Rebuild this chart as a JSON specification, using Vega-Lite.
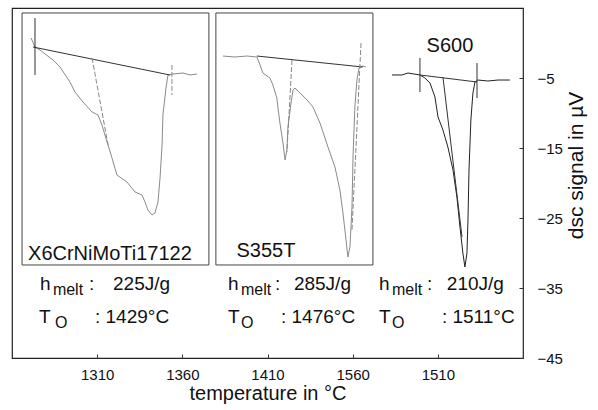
{
  "$schema": "https://vega.github.io/schema/vega-lite/v6.json",
  "width": 511,
  "height": 350,
  "autosize": {"type": "none"},
  "padding": {"left": 12, "top": 8, "right": 75, "bottom": 52},
  "background": "white",
  "config": {
    "font": "Liberation Sans",
    "view": {"stroke": "#222", "strokeWidth": 1.2}
  },
  "datasets": {
    "curves": [
      {"s": "p1", "i": 1, "T": 1271.2, "v": 0.71},
      {"s": "p1", "i": 2, "T": 1273.5, "v": -0.57},
      {"s": "p1", "i": 3, "T": 1276.4, "v": -1.0},
      {"s": "p1", "i": 4, "T": 1284.1, "v": -2.43},
      {"s": "p1", "i": 5, "T": 1288.2, "v": -3.43},
      {"s": "p1", "i": 6, "T": 1294.0, "v": -5.57},
      {"s": "p1", "i": 7, "T": 1297.0, "v": -7.0},
      {"s": "p1", "i": 8, "T": 1301.7, "v": -8.43},
      {"s": "p1", "i": 9, "T": 1307.0, "v": -9.86},
      {"s": "p1", "i": 10, "T": 1310.5, "v": -10.29},
      {"s": "p1", "i": 11, "T": 1312.8, "v": -11.71},
      {"s": "p1", "i": 12, "T": 1315.8, "v": -14.14},
      {"s": "p1", "i": 13, "T": 1318.7, "v": -16.43},
      {"s": "p1", "i": 14, "T": 1321.6, "v": -18.86},
      {"s": "p1", "i": 15, "T": 1327.5, "v": -19.86},
      {"s": "p1", "i": 16, "T": 1332.2, "v": -21.29},
      {"s": "p1", "i": 17, "T": 1336.3, "v": -21.71},
      {"s": "p1", "i": 18, "T": 1338.1, "v": -22.71},
      {"s": "p1", "i": 19, "T": 1339.8, "v": -23.86},
      {"s": "p1", "i": 20, "T": 1342.2, "v": -24.57},
      {"s": "p1", "i": 21, "T": 1343.9, "v": -24.29},
      {"s": "p1", "i": 22, "T": 1345.7, "v": -22.71},
      {"s": "p1", "i": 23, "T": 1346.9, "v": -19.29},
      {"s": "p1", "i": 24, "T": 1348.1, "v": -14.57},
      {"s": "p1", "i": 25, "T": 1348.6, "v": -10.29},
      {"s": "p1", "i": 26, "T": 1350.4, "v": -6.43},
      {"s": "p1", "i": 27, "T": 1351.6, "v": -4.57},
      {"s": "p1", "i": 28, "T": 1354.5, "v": -4.43},
      {"s": "p1", "i": 29, "T": 1360.4, "v": -4.29},
      {"s": "p1", "i": 30, "T": 1364.5, "v": -4.57},
      {"s": "p1", "i": 31, "T": 1368.6, "v": -4.43},
      {"s": "p2", "i": 1, "T": 1383.9, "v": -1.86},
      {"s": "p2", "i": 2, "T": 1390.9, "v": -2.0},
      {"s": "p2", "i": 3, "T": 1397.9, "v": -1.86},
      {"s": "p2", "i": 4, "T": 1403.8, "v": -2.0},
      {"s": "p2", "i": 5, "T": 1405.6, "v": -3.14},
      {"s": "p2", "i": 6, "T": 1407.3, "v": -4.29},
      {"s": "p2", "i": 7, "T": 1411.4, "v": -5.0},
      {"s": "p2", "i": 8, "T": 1413.2, "v": -6.0},
      {"s": "p2", "i": 9, "T": 1415.5, "v": -7.86},
      {"s": "p2", "i": 10, "T": 1416.1, "v": -9.14},
      {"s": "p2", "i": 11, "T": 1417.3, "v": -11.43},
      {"s": "p2", "i": 12, "T": 1419.1, "v": -14.29},
      {"s": "p2", "i": 13, "T": 1420.3, "v": -16.71},
      {"s": "p2", "i": 14, "T": 1421.4, "v": -15.29},
      {"s": "p2", "i": 15, "T": 1422.0, "v": -12.0},
      {"s": "p2", "i": 16, "T": 1423.8, "v": -8.57},
      {"s": "p2", "i": 17, "T": 1425.0, "v": -6.71},
      {"s": "p2", "i": 18, "T": 1426.1, "v": -6.43},
      {"s": "p2", "i": 19, "T": 1429.1, "v": -7.14},
      {"s": "p2", "i": 20, "T": 1433.2, "v": -8.14},
      {"s": "p2", "i": 21, "T": 1436.7, "v": -9.14},
      {"s": "p2", "i": 22, "T": 1440.8, "v": -11.43},
      {"s": "p2", "i": 23, "T": 1445.5, "v": -14.86},
      {"s": "p2", "i": 24, "T": 1449.6, "v": -17.71},
      {"s": "p2", "i": 25, "T": 1452.5, "v": -21.0},
      {"s": "p2", "i": 26, "T": 1454.3, "v": -24.29},
      {"s": "p2", "i": 27, "T": 1456.1, "v": -28.14},
      {"s": "p2", "i": 28, "T": 1457.2, "v": -30.57},
      {"s": "p2", "i": 29, "T": 1458.4, "v": -29.14},
      {"s": "p2", "i": 30, "T": 1459.6, "v": -23.43},
      {"s": "p2", "i": 31, "T": 1460.2, "v": -16.29},
      {"s": "p2", "i": 32, "T": 1461.3, "v": -9.14},
      {"s": "p2", "i": 33, "T": 1462.5, "v": -5.29},
      {"s": "p2", "i": 34, "T": 1463.7, "v": -3.57},
      {"s": "p2", "i": 35, "T": 1466.0, "v": -3.29},
      {"s": "p2", "i": 36, "T": 1467.8, "v": -3.43},
      {"s": "p3", "i": 1, "T": 1483.1, "v": -4.57},
      {"s": "p3", "i": 2, "T": 1488.9, "v": -4.57},
      {"s": "p3", "i": 3, "T": 1492.5, "v": -4.29},
      {"s": "p3", "i": 4, "T": 1499.5, "v": -4.57},
      {"s": "p3", "i": 5, "T": 1502.4, "v": -5.0},
      {"s": "p3", "i": 6, "T": 1505.4, "v": -5.71},
      {"s": "p3", "i": 7, "T": 1508.3, "v": -7.71},
      {"s": "p3", "i": 8, "T": 1510.1, "v": -10.57},
      {"s": "p3", "i": 9, "T": 1513.0, "v": -12.43},
      {"s": "p3", "i": 10, "T": 1515.9, "v": -14.86},
      {"s": "p3", "i": 11, "T": 1518.9, "v": -18.14},
      {"s": "p3", "i": 12, "T": 1521.2, "v": -22.0},
      {"s": "p3", "i": 13, "T": 1523.0, "v": -26.29},
      {"s": "p3", "i": 14, "T": 1524.7, "v": -30.0},
      {"s": "p3", "i": 15, "T": 1525.9, "v": -32.0},
      {"s": "p3", "i": 16, "T": 1527.1, "v": -30.0},
      {"s": "p3", "i": 17, "T": 1527.7, "v": -25.29},
      {"s": "p3", "i": 18, "T": 1528.3, "v": -18.14},
      {"s": "p3", "i": 19, "T": 1529.4, "v": -11.0},
      {"s": "p3", "i": 20, "T": 1530.6, "v": -7.14},
      {"s": "p3", "i": 21, "T": 1531.8, "v": -5.57},
      {"s": "p3", "i": 22, "T": 1533.5, "v": -5.29},
      {"s": "p3", "i": 23, "T": 1539.4, "v": -5.43},
      {"s": "p3", "i": 24, "T": 1545.3, "v": -5.29},
      {"s": "p3", "i": 25, "T": 1552.3, "v": -5.29}
    ],
    "constr": [
      {"s": "p1base", "k": "solid", "i": 1, "T": 1272.3, "v": -0.57},
      {"s": "p1base", "k": "solid", "i": 2, "T": 1352.7, "v": -4.57},
      {"s": "p1m1", "k": "solid", "i": 1, "T": 1273.5, "v": 3.57},
      {"s": "p1m1", "k": "solid", "i": 2, "T": 1273.5, "v": -4.57},
      {"s": "p1tan", "k": "faint", "i": 1, "T": 1307.0, "v": -2.14},
      {"s": "p1tan", "k": "faint", "i": 2, "T": 1316.4, "v": -14.57},
      {"s": "p1m2", "k": "faint", "i": 1, "T": 1353.9, "v": -3.14},
      {"s": "p1m2", "k": "faint", "i": 2, "T": 1353.9, "v": -7.43},
      {"s": "p2base", "k": "solid", "i": 1, "T": 1403.8, "v": -1.86},
      {"s": "p2base", "k": "solid", "i": 2, "T": 1466.0, "v": -3.43},
      {"s": "p2tan1", "k": "faint", "i": 1, "T": 1424.4, "v": -2.43},
      {"s": "p2tan1", "k": "faint", "i": 2, "T": 1421.4, "v": -15.57},
      {"s": "p2tan2", "k": "faint", "i": 1, "T": 1464.9, "v": 0.0},
      {"s": "p2tan2", "k": "faint", "i": 2, "T": 1459.6, "v": -26.71},
      {"s": "p3base", "k": "solid", "i": 1, "T": 1499.5, "v": -4.57},
      {"s": "p3base", "k": "solid", "i": 2, "T": 1533.0, "v": -5.57},
      {"s": "p3tan", "k": "solid", "i": 1, "T": 1513.0, "v": -4.86},
      {"s": "p3tan", "k": "solid", "i": 2, "T": 1524.2, "v": -27.71},
      {"s": "p3m1", "k": "solid", "i": 1, "T": 1499.5, "v": -2.14},
      {"s": "p3m1", "k": "solid", "i": 2, "T": 1499.5, "v": -7.0},
      {"s": "p3m2", "k": "solid", "i": 1, "T": 1533.0, "v": -2.86},
      {"s": "p3m2", "k": "solid", "i": 2, "T": 1533.0, "v": -7.86}
    ],
    "boxes": [
      {"T1": 1265.9, "T2": 1375.6, "v1": 4.29, "v2": -31.71},
      {"T1": 1379.7, "T2": 1471.9, "v1": 4.29, "v2": -31.71}
    ],
    "notes": [
      {"role": "label", "T": 1317.5, "v": -31.0, "text": "X6CrNiMoTi17122"},
      {"role": "label", "T": 1409.1, "v": -30.6, "text": "S355T"},
      {"role": "label", "T": 1517.1, "v": -1.3, "text": "S600"},
      {"role": "main", "T": 1276.4, "v": -35.29, "text": "h"},
      {"role": "sub", "T": 1284.0, "v": -35.29, "text": "melt"},
      {"role": "main", "T": 1305.2, "v": -35.29, "text": ":"},
      {"role": "main", "T": 1319.3, "v": -35.29, "text": "225J/g"},
      {"role": "main", "T": 1275.8, "v": -40.0, "text": "T"},
      {"role": "sub", "T": 1285.2, "v": -40.0, "text": "O"},
      {"role": "main", "T": 1308.7, "v": -40.0, "text": ": 1429°C"},
      {"role": "main", "T": 1386.8, "v": -35.29, "text": "h"},
      {"role": "sub", "T": 1394.4, "v": -35.29, "text": "melt"},
      {"role": "main", "T": 1414.4, "v": -35.29, "text": ":"},
      {"role": "main", "T": 1425.5, "v": -35.29, "text": "285J/g"},
      {"role": "main", "T": 1386.8, "v": -40.0, "text": "T"},
      {"role": "sub", "T": 1394.4, "v": -40.0, "text": "O"},
      {"role": "main", "T": 1417.9, "v": -40.0, "text": ": 1476°C"},
      {"role": "main", "T": 1475.4, "v": -35.29, "text": "h"},
      {"role": "sub", "T": 1483.1, "v": -35.29, "text": "melt"},
      {"role": "main", "T": 1503.6, "v": -35.29, "text": ":"},
      {"role": "main", "T": 1515.3, "v": -35.29, "text": "210J/g"},
      {"role": "main", "T": 1475.4, "v": -40.0, "text": "T"},
      {"role": "sub", "T": 1483.1, "v": -40.0, "text": "O"},
      {"role": "main", "T": 1512.4, "v": -40.0, "text": ": 1511°C"}
    ]
  },
  "layer": [
    {
      "data": {"name": "boxes"},
      "mark": {"type": "rect", "fill": null, "fillOpacity": 0, "stroke": "#444", "strokeWidth": 1},
      "encoding": {
        "x": {
          "field": "T1", "type": "quantitative",
          "scale": {"domain": [1260, 1560], "nice": false, "zero": false},
          "axis": {
            "values": [1310, 1360, 1410, 1460, 1510],
            "labelExpr": "datum.value == 1460 ? '1560' : '' + datum.value",
            "title": "temperature in °C",
            "titleFontSize": 20, "titleFontWeight": "normal", "titleColor": "#111",
            "labelFontSize": 15, "labelColor": "#111",
            "grid": false, "domain": false,
            "tickSize": -4, "tickColor": "#333",
            "labelPadding": 13, "titlePadding": 1
          }
        },
        "x2": {"field": "T2"},
        "y": {
          "field": "v1", "type": "quantitative",
          "scale": {"domain": [-45, 5], "nice": false, "zero": false},
          "axis": {
            "orient": "right",
            "values": [-5, -15, -25, -35, -45],
            "title": "dsc signal in µV",
            "titleAngle": -90,
            "titleAlign": "center",
            "titleFontSize": 21, "titleFontWeight": "normal", "titleColor": "#111",
            "titleY": 157,
            "labelFontSize": 15, "labelColor": "#111",
            "grid": false, "domain": false,
            "tickSize": -4, "tickColor": "#333",
            "labelPadding": 18, "titlePadding": 24
          }
        },
        "y2": {"field": "v2"}
      }
    },
    {
      "data": {"name": "curves"},
      "transform": [{"filter": "datum.s != 'p3'"}],
      "mark": {"type": "line", "color": "#8a8a8a", "strokeWidth": 1},
      "encoding": {
        "x": {"field": "T", "type": "quantitative"},
        "y": {"field": "v", "type": "quantitative"},
        "detail": {"field": "s"},
        "order": {"field": "i"}
      }
    },
    {
      "data": {"name": "curves"},
      "transform": [{"filter": "datum.s == 'p3'"}],
      "mark": {"type": "line", "color": "#222", "strokeWidth": 1},
      "encoding": {
        "x": {"field": "T", "type": "quantitative"},
        "y": {"field": "v", "type": "quantitative"},
        "detail": {"field": "s"},
        "order": {"field": "i"}
      }
    },
    {
      "data": {"name": "constr"},
      "transform": [{"filter": "datum.k == 'solid'"}],
      "mark": {"type": "line", "color": "#333", "strokeWidth": 1},
      "encoding": {
        "x": {"field": "T", "type": "quantitative"},
        "y": {"field": "v", "type": "quantitative"},
        "detail": {"field": "s"},
        "order": {"field": "i"}
      }
    },
    {
      "data": {"name": "constr"},
      "transform": [{"filter": "datum.k == 'faint'"}],
      "mark": {"type": "line", "color": "#888", "strokeWidth": 1, "strokeDash": [5, 2]},
      "encoding": {
        "x": {"field": "T", "type": "quantitative"},
        "y": {"field": "v", "type": "quantitative"},
        "detail": {"field": "s"},
        "order": {"field": "i"}
      }
    },
    {
      "data": {"name": "notes"},
      "transform": [{"filter": "datum.role == 'label'"}],
      "mark": {"type": "text", "fontSize": 20, "align": "center", "baseline": "alphabetic", "color": "#111"},
      "encoding": {
        "x": {"field": "T", "type": "quantitative"},
        "y": {"field": "v", "type": "quantitative"},
        "text": {"field": "text"}
      }
    },
    {
      "data": {"name": "notes"},
      "transform": [{"filter": "datum.role == 'main'"}],
      "mark": {"type": "text", "fontSize": 19, "align": "left", "baseline": "alphabetic", "color": "#111"},
      "encoding": {
        "x": {"field": "T", "type": "quantitative"},
        "y": {"field": "v", "type": "quantitative"},
        "text": {"field": "text"}
      }
    },
    {
      "data": {"name": "notes"},
      "transform": [{"filter": "datum.role == 'sub'"}],
      "mark": {"type": "text", "fontSize": 16, "align": "left", "baseline": "alphabetic", "dy": 5, "color": "#111"},
      "encoding": {
        "x": {"field": "T", "type": "quantitative"},
        "y": {"field": "v", "type": "quantitative"},
        "text": {"field": "text"}
      }
    }
  ]
}
